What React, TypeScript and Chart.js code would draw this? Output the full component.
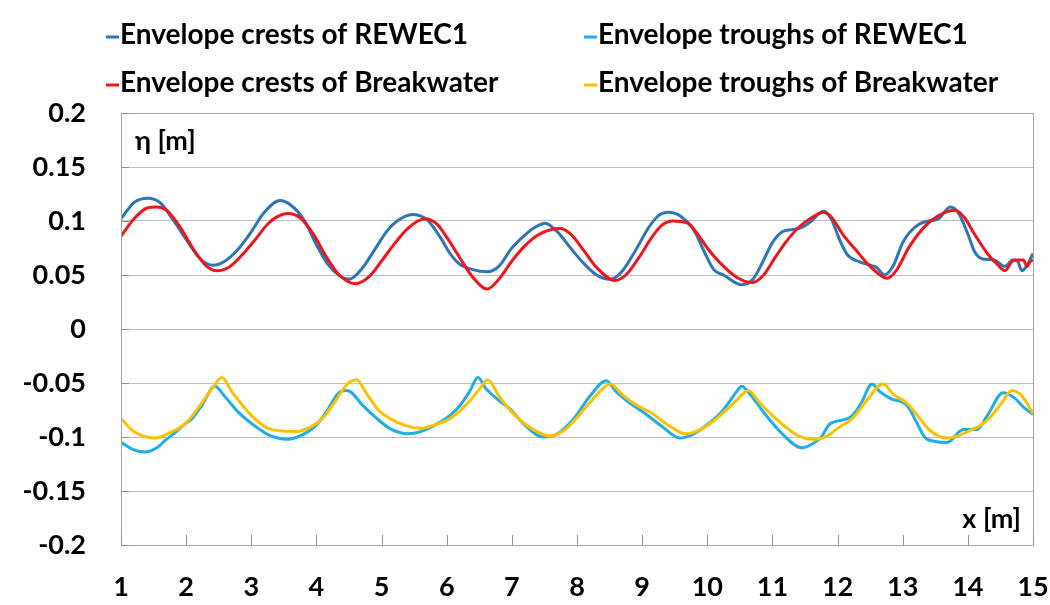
import { useEffect, useRef } from "react";
import { Chart, registerables } from "chart.js";

Chart.register(...registerables);

// ---- data ----
const seriesLabels = [
  "Envelope crests of REWEC1",
  "Envelope troughs of REWEC1",
  "Envelope crests of Breakwater",
  "Envelope troughs of Breakwater",
];

const crestRewecX = [1.0, 1.2, 1.41, 1.6, 1.8, 2.0, 2.2, 2.41, 2.6, 2.8, 3.0, 3.2, 3.44, 3.6, 3.82, 4.0, 4.2, 4.5, 4.7, 4.9, 5.1, 5.24, 5.47, 5.7, 5.9, 6.05, 6.2, 6.4, 6.62, 6.8, 7.0, 7.2, 7.35, 7.51, 7.7, 7.9, 8.1, 8.3, 8.51, 8.7, 8.9, 9.1, 9.25, 9.4, 9.6, 9.8, 9.95, 10.1, 10.25, 10.53, 10.7, 10.85, 11.0, 11.15, 11.3, 11.45, 11.6, 11.78, 11.9, 12.05, 12.16, 12.35, 12.5, 12.6, 12.72, 12.85, 13.0, 13.1, 13.25, 13.4, 13.55, 13.73, 13.85, 14.0, 14.1, 14.22, 14.4, 14.57, 14.69, 14.76, 14.83, 14.92, 15.0];
const crestRewecY = [0.102, 0.117, 0.121, 0.117, 0.101, 0.083, 0.066, 0.059, 0.063, 0.074, 0.09, 0.108, 0.119, 0.115, 0.1, 0.078, 0.058, 0.046, 0.056, 0.074, 0.092, 0.1, 0.106, 0.101, 0.085, 0.07, 0.06, 0.055, 0.053, 0.058, 0.075, 0.087, 0.094, 0.098, 0.09, 0.075, 0.061, 0.05, 0.046, 0.054, 0.073, 0.094, 0.105, 0.108, 0.104, 0.091, 0.072, 0.055, 0.05, 0.041, 0.046, 0.062, 0.08, 0.09, 0.092, 0.094, 0.1, 0.109, 0.102, 0.08, 0.068, 0.062, 0.059, 0.057, 0.05, 0.058, 0.08, 0.089, 0.097, 0.1, 0.102, 0.113, 0.108, 0.088, 0.072, 0.065, 0.064, 0.058, 0.064, 0.063, 0.054, 0.06, 0.07];

const troughRewecX = [1.0, 1.2, 1.37, 1.55, 1.7, 1.83, 2.0, 2.09, 2.25, 2.44, 2.6, 2.8, 3.06, 3.3, 3.56, 3.75, 3.98, 4.15, 4.33, 4.44, 4.52, 4.7, 4.93, 5.15, 5.4, 5.6, 5.85, 6.05, 6.2, 6.35, 6.48, 6.6, 6.8, 6.97, 7.2, 7.48, 7.7, 7.95, 8.2, 8.45, 8.6, 8.8, 9.04, 9.3, 9.58, 9.8, 10.07, 10.2, 10.32, 10.45, 10.53, 10.65, 10.89, 11.15, 11.45, 11.6, 11.75, 11.88, 12.19, 12.35, 12.53, 12.65, 12.8, 13.07, 13.2, 13.37, 13.68, 13.93, 14.14, 14.3, 14.54, 14.72, 14.85, 15.0];
const troughRewecY = [-0.105, -0.112, -0.114, -0.11, -0.102, -0.096, -0.087, -0.083, -0.07, -0.053, -0.063, -0.077, -0.09, -0.099, -0.102, -0.099, -0.09, -0.077, -0.06, -0.057, -0.058, -0.07, -0.083, -0.093, -0.097, -0.095, -0.088, -0.08, -0.071, -0.058, -0.045, -0.055, -0.066, -0.074, -0.089, -0.1, -0.097, -0.083, -0.062, -0.048, -0.058, -0.068, -0.078, -0.09, -0.101, -0.097, -0.085, -0.078, -0.069, -0.058, -0.053, -0.06, -0.079, -0.097, -0.11, -0.107, -0.1, -0.088, -0.082, -0.07, -0.051, -0.058, -0.064, -0.071, -0.085, -0.102, -0.105, -0.093, -0.093, -0.08, -0.059, -0.064, -0.072, -0.079];

const crestBwX = [1.0, 1.2, 1.4, 1.55, 1.7, 1.9, 2.1, 2.3, 2.47, 2.65, 2.85, 3.05, 3.25, 3.4, 3.56, 3.75, 3.95, 4.15, 4.35, 4.6, 4.8, 5.0, 5.2, 5.4, 5.67, 5.85, 6.0, 6.2, 6.4, 6.62, 6.8, 7.0, 7.2, 7.4, 7.6, 7.74, 7.9, 8.1, 8.3, 8.58, 8.75, 8.95, 9.15, 9.3, 9.47, 9.7, 9.85, 10.0, 10.2, 10.45, 10.69, 10.85, 11.05, 11.2, 11.4, 11.6, 11.78, 11.9, 12.1, 12.27, 12.5, 12.76, 12.9, 13.1, 13.34, 13.55, 13.8, 13.95, 14.1, 14.31, 14.45, 14.57, 14.67, 14.72, 14.85, 14.91, 14.95, 15.0];
const crestBwY = [0.086, 0.102, 0.112, 0.113, 0.11, 0.095, 0.075, 0.059, 0.054, 0.057, 0.068, 0.082, 0.097, 0.104, 0.107, 0.103, 0.088, 0.067, 0.05, 0.042, 0.048, 0.063, 0.079, 0.093, 0.102, 0.097, 0.085, 0.066, 0.048, 0.037, 0.046, 0.063, 0.077, 0.087, 0.092, 0.093, 0.088, 0.073, 0.057, 0.045, 0.05, 0.066, 0.085, 0.096, 0.1, 0.098, 0.088, 0.075, 0.061, 0.048, 0.043, 0.049, 0.067, 0.08, 0.094, 0.103, 0.108, 0.104, 0.086, 0.074, 0.058, 0.047, 0.054, 0.076, 0.095, 0.105, 0.11, 0.103, 0.088, 0.069, 0.06, 0.054, 0.062, 0.064, 0.064, 0.058, 0.062, 0.064];

const troughBwX = [1.0, 1.2, 1.52, 1.75, 1.98, 2.2, 2.4, 2.55, 2.7, 3.0, 3.26, 3.67, 3.9, 4.09, 4.3, 4.49, 4.62, 4.75, 4.95, 5.13, 5.35, 5.59, 5.8, 6.05, 6.3, 6.5, 6.63, 6.8, 7.0, 7.3, 7.59, 7.8, 8.0, 8.2, 8.35, 8.51, 8.7, 8.9, 9.15, 9.4, 9.66, 9.9, 10.1, 10.27, 10.45, 10.63, 10.8, 11.0, 11.19, 11.4, 11.6, 11.81, 12.0, 12.24, 12.45, 12.7, 12.85, 13.07, 13.25, 13.42, 13.68, 13.85, 14.03, 14.2, 14.34, 14.5, 14.68, 14.8, 14.88, 15.0];
const troughBwY = [-0.083, -0.095, -0.101, -0.096, -0.088, -0.072, -0.055, -0.045, -0.058, -0.08, -0.092, -0.095, -0.091, -0.083, -0.066, -0.05, -0.047, -0.058, -0.075, -0.083, -0.089, -0.092, -0.089, -0.083, -0.07, -0.056, -0.047, -0.062, -0.077, -0.092, -0.099, -0.094, -0.082, -0.068, -0.058, -0.051, -0.061, -0.07, -0.078, -0.089, -0.097, -0.093, -0.085, -0.076, -0.066, -0.057, -0.068, -0.08, -0.09, -0.099, -0.102, -0.1, -0.092, -0.082, -0.066, -0.051, -0.06, -0.069, -0.082, -0.094, -0.101, -0.099, -0.094, -0.089, -0.082, -0.07, -0.057, -0.06, -0.066, -0.078];

const seriesColors = ["#2E75B6", "#1FAEE6", "#F2141B", "#FFC000"];
const xTickValues = [1, 2, 3, 4, 5, 6, 7, 8, 9, 10, 11, 12, 13, 14, 15];
const yTickValues = [-0.2, -0.15, -0.1, -0.05, 0, 0.05, 0.1, 0.15, 0.2];
const yAxisTitle = "η [m]";
const xAxisTitle = "x [m]";

const FONT = "Lato, 'Open Sans', sans-serif";

function pts(xs: number[], ys: number[]) {
  return xs.map((x, i) => ({ x, y: ys[i] }));
}

const decorPlugin = {
  id: "decor",
  afterDraw(chart: any) {
    const { ctx, chartArea: a, scales } = chart;
    ctx.save();
    // plot frame
    ctx.strokeStyle = "#a6a6a6";
    ctx.lineWidth = 1;
    ctx.strokeRect(Math.round(a.left) + 0.5, Math.round(a.top) + 0.5, Math.round(a.right - a.left), Math.round(a.bottom - a.top));
    // inner tick marks
    ctx.strokeStyle = "#8c8c8c";
    ctx.beginPath();
    yTickValues.forEach((v) => {
      const y = Math.round(scales.y.getPixelForValue(v)) + 0.5;
      ctx.moveTo(a.left, y);
      ctx.lineTo(a.left + 8, y);
    });
    xTickValues.forEach((v) => {
      const x = Math.round(scales.x.getPixelForValue(v)) + 0.5;
      ctx.moveTo(x, a.bottom);
      ctx.lineTo(x, a.bottom - 10);
    });
    ctx.stroke();
    // axis titles
    ctx.fillStyle = "#000";
    ctx.font = `bold 27px ${FONT}`;
    ctx.textBaseline = "middle";
    ctx.textAlign = "left";
    ctx.fillText(yAxisTitle, a.left + 14, a.top + 28);
    ctx.textAlign = "right";
    ctx.fillText(xAxisTitle, a.right - 12, a.bottom - 26);
    // legend (two columns, two rows)
    const colX = [120, 598];
    const rowY = [35, 83];
    ctx.font = `bold 28px ${FONT}`;
    ctx.textAlign = "left";
    chart.data.datasets.forEach((ds: any, i: number) => {
      const cx = colX[i % 2];
      const cy = rowY[Math.floor(i / 2)];
      ctx.strokeStyle = ds.borderColor;
      ctx.lineWidth = 3;
      ctx.beginPath();
      ctx.moveTo(cx - 14, cy + 2);
      ctx.lineTo(cx - 1, cy + 2);
      ctx.stroke();
      ctx.fillStyle = "#000";
      ctx.fillText(ds.label, cx, cy);
    });
    ctx.restore();
  },
};

export default function App() {
  const ref = useRef<HTMLCanvasElement | null>(null);
  useEffect(() => {
    document.body.style.margin = "0";
    const canvas = ref.current;
    if (!canvas) return;
    const seriesData = [
      pts(crestRewecX, crestRewecY),
      pts(troughRewecX, troughRewecY),
      pts(crestBwX, crestBwY),
      pts(troughBwX, troughBwY),
    ];
    const chart = new Chart(canvas, {
      type: "line",
      data: {
        datasets: seriesData.map((d, i) => ({
          label: seriesLabels[i],
          data: d,
          borderColor: seriesColors[i],
          backgroundColor: seriesColors[i],
          borderWidth: 3,
          pointRadius: 0,
          cubicInterpolationMode: "monotone" as const,
          fill: false,
          order: 4 - i,
        })),
      },
      options: {
        responsive: false,
        animation: false,
        layout: { padding: { top: 113, right: 17, left: 0, bottom: 0 } },
        plugins: { legend: { display: false }, tooltip: { enabled: false } },
        scales: {
          x: {
            type: "linear",
            min: 1,
            max: 15,
            afterBuildTicks: (s: any) => {
              s.ticks = xTickValues.map((v) => ({ value: v }));
            },
            afterFit: (s: any) => {
              s.height = 60;
              s.paddingLeft = 0;
              s.paddingRight = 0;
            },
            ticks: {
              color: "#000",
              font: { family: FONT, size: 27, weight: "bold" },
              padding: 26,
              maxRotation: 0,
              autoSkip: false,
            },
            grid: { display: false, drawTicks: false },
            border: { display: false },
          },
          y: {
            type: "linear",
            min: -0.2,
            max: 0.2,
            afterBuildTicks: (s: any) => {
              s.ticks = yTickValues.map((v) => ({ value: v }));
            },
            afterFit: (s: any) => {
              s.width = 121;
              s.paddingTop = 0;
              s.paddingBottom = 0;
            },
            ticks: {
              color: "#000",
              font: { family: FONT, size: 27, weight: "bold" },
              padding: 35,
              callback: (v: any) => String(Math.round(Number(v) * 100) / 100),
            },
            grid: { color: "#bfbfbf", lineWidth: 1, drawTicks: false },
            border: { display: false },
          },
        },
      },
      plugins: [decorPlugin],
    });
    return () => chart.destroy();
  }, []);
  return (
    <div style={{ width: 1050, height: 605 }}>
      <canvas ref={ref} width={1050} height={605} style={{ display: "block" }} />
    </div>
  );
}
